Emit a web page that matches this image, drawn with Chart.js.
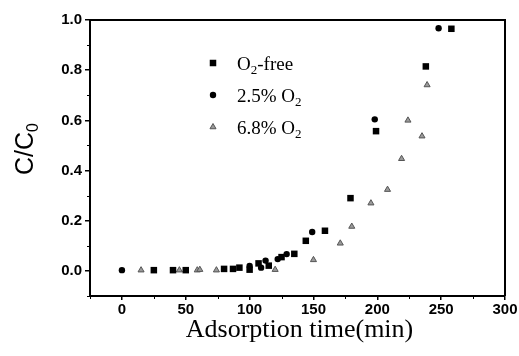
<!DOCTYPE html>
<html><head><meta charset="utf-8">
<script src="https://cdn.jsdelivr.net/npm/chart.js@4/dist/chart.umd.min.js"></script>
<style>html,body{margin:0;padding:0;background:#fff}#wrap{width:519px;height:356px;position:relative}</style>
</head><body><div id="wrap"><canvas id="c" width="519" height="356"></canvas></div>
<script>
// ---- data ----
const xTicks = [0, 50, 100, 150, 200, 250, 300];
const yTicks = [0.0, 0.2, 0.4, 0.6, 0.8, 1.0];
const xMinor = [-25, 25, 75, 125, 175, 225, 275];
const yMinor = [-0.1, 0.1, 0.3, 0.5, 0.7, 0.9];

const freeX = [25, 40, 50, 80, 87, 92, 100, 107, 115, 125, 135, 144, 159, 179, 199, 238, 258];
const freeY = [0.003, 0.003, 0.003, 0.008, 0.008, 0.013, 0.005, 0.03, 0.021, 0.055, 0.068, 0.12, 0.16, 0.29, 0.557, 0.815, 0.965];

const o25X = [0, 100, 109, 112.5, 122, 129, 149, 198, 248];
const o25Y = [0.003, 0.02, 0.013, 0.041, 0.047, 0.067, 0.155, 0.604, 0.967];

const o68X = [15, 45, 59, 61, 74, 120, 150, 171, 180, 195, 208, 219, 224, 235, 239];
const o68Y = [0.003, 0.003, 0.003, 0.005, 0.003, 0.005, 0.044, 0.11, 0.177, 0.27, 0.324, 0.447, 0.6, 0.537, 0.741];

// legend labels: [main, subscript, tail]
const legendLabels = [['O', '2', '-free'], ['2.5% O', '2', ''], ['6.8% O', '2', '']];
const xTitle = 'Adsorption time(min)';
const yTitle = ['C/C', '0'];

const pts = (xs, ys) => xs.map((x, i) => ({x: x, y: ys[i]}));

const decor = {
  id: 'decor',
  afterDraw(chart) {
    const ctx = chart.ctx, a = chart.chartArea;
    const xs = chart.scales.x, ys = chart.scales.y;
    ctx.save();
    ctx.strokeStyle = '#000';
    ctx.lineWidth = 2;
    ctx.beginPath();
    ctx.moveTo(a.left, a.top); ctx.lineTo(a.right, a.top); ctx.lineTo(a.right, a.bottom);
    ctx.stroke();
    ctx.lineWidth = 1;
    ctx.beginPath();
    xMinor.forEach(v => { const p = Math.round(xs.getPixelForValue(v)) + 0.5; ctx.moveTo(p, a.bottom); ctx.lineTo(p, a.bottom + 3); });
    yMinor.forEach(v => { const p = Math.round(ys.getPixelForValue(v)) + 0.5; ctx.moveTo(a.left, p); ctx.lineTo(a.left - 3, p); });
    ctx.stroke();

    // x title
    ctx.fillStyle = '#000';
    ctx.font = '26px "Liberation Serif", "Times New Roman", serif';
    ctx.textAlign = 'center'; ctx.textBaseline = 'alphabetic';
    ctx.fillText(xTitle, (a.left + a.right) / 2 + 2, 337);

    // y title
    ctx.save();
    ctx.translate(33, 149);
    ctx.rotate(-Math.PI / 2);
    ctx.font = '25px "Liberation Sans", Arial, sans-serif';
    const w1 = ctx.measureText(yTitle[0]).width;
    ctx.font = '16px "Liberation Sans", Arial, sans-serif';
    const w2 = ctx.measureText(yTitle[1]).width;
    const start = -(w1 + w2) / 2;
    ctx.textAlign = 'left';
    ctx.font = '25px "Liberation Sans", Arial, sans-serif';
    ctx.fillText(yTitle[0], start, 0);
    ctx.font = '16px "Liberation Sans", Arial, sans-serif';
    ctx.fillText(yTitle[1], start + w1, 5);
    ctx.restore();

    // legend
    const rows = [63, 95, 127];
    const ds = chart.data.datasets;
    rows.forEach((ry, i) => {
      const d = ds[i];
      ctx.save();
      ctx.fillStyle = d.backgroundColor; ctx.strokeStyle = d.borderColor; ctx.lineWidth = d.borderWidth;
      Chart.helpers.drawPoint(ctx, {pointStyle: d.pointStyle, radius: d.pointRadius, borderWidth: d.borderWidth}, 213, ry);
      ctx.restore();
      const lab = legendLabels[i];
      let x = 237;
      ctx.fillStyle = '#000';
      ctx.textAlign = 'left';
      ctx.font = '19px "Liberation Serif", "Times New Roman", serif';
      ctx.fillText(lab[0], x, ry + 7); x += ctx.measureText(lab[0]).width;
      ctx.font = '13px "Liberation Serif", "Times New Roman", serif';
      ctx.fillText(lab[1], x, ry + 11); x += ctx.measureText(lab[1]).width;
      ctx.font = '19px "Liberation Serif", "Times New Roman", serif';
      ctx.fillText(lab[2], x, ry + 7);
    });
    ctx.restore();
  }
};

const tickFont = {family: '"Liberation Sans", Arial, sans-serif', size: 15, weight: 'bold'};

new Chart(document.getElementById('c'), {
  type: 'scatter',
  data: {
    datasets: [
      {label: 'O2-free', data: pts(freeX, freeY), pointStyle: 'rect', pointRadius: 4.6, backgroundColor: '#000', borderColor: '#000', borderWidth: 0},
      {label: '2.5% O2', data: pts(o25X, o25Y), pointStyle: 'circle', pointRadius: 3.2, backgroundColor: '#000', borderColor: '#000', borderWidth: 0},
      {label: '6.8% O2', data: pts(o68X, o68Y), pointStyle: 'triangle', pointRadius: 3.5, backgroundColor: '#9a9a9a', borderColor: '#555', borderWidth: 1}
    ]
  },
  options: {
    responsive: false, animation: false, devicePixelRatio: 1,
    layout: {padding: {top: 20, right: 14, left: 0, bottom: 0}},
    plugins: {legend: {display: false}, tooltip: {enabled: false}},
    scales: {
      x: {
        type: 'linear', min: -25, max: 300,
        afterBuildTicks: s => { s.ticks = xTicks.map(v => ({value: v})); },
        afterFit: s => { s.height = 60; },
        grid: {drawOnChartArea: false, drawTicks: true, tickLength: 4, color: '#000', lineWidth: 1.5},
        border: {display: true, color: '#000', width: 2},
        ticks: {color: '#000', font: tickFont, padding: 1, maxRotation: 0, autoSkip: false}
      },
      y: {
        type: 'linear', min: -0.1, max: 1.0,
        afterBuildTicks: s => { s.ticks = yTicks.map(v => ({value: v})); },
        afterFit: s => { s.width = 90; },
        grid: {drawOnChartArea: false, drawTicks: true, tickLength: 5, color: '#000', lineWidth: 1.5},
        border: {display: true, color: '#000', width: 2},
        ticks: {color: '#000', font: tickFont, padding: 3, autoSkip: false, callback: v => Number(v).toFixed(1)}
      }
    }
  },
  plugins: [decor]
});
</script>
</body></html>
